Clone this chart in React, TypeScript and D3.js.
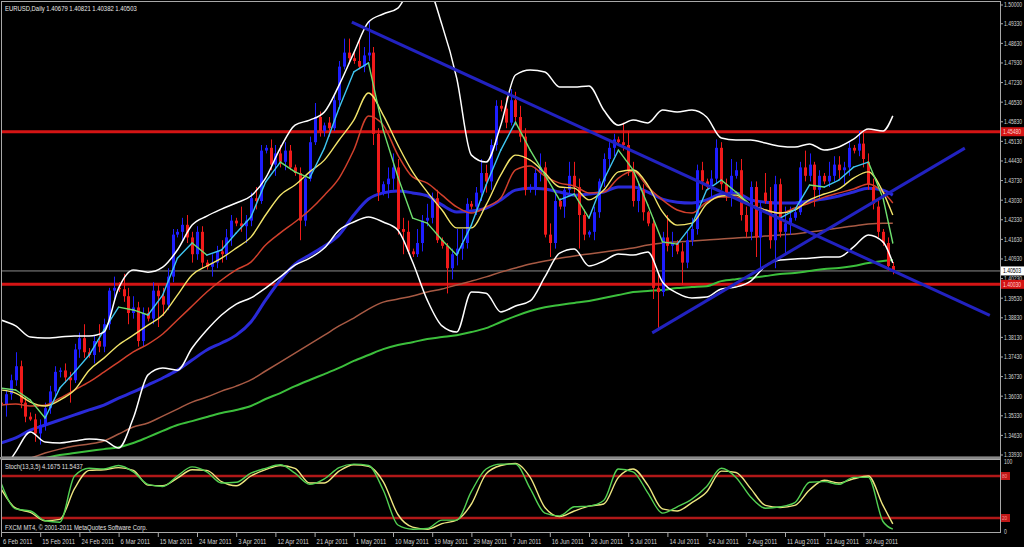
import React from "react";
import * as d3 from "d3";

const W = 1024;
const H = 547;

// ---------- candles (bar 0 = Sun 6 Feb 2011, FXCM daily incl. Sunday bars) ----------
const opens = [
  1.3580, 1.3575, 1.3610, 1.3660, 1.3710, 1.3580,
  1.3530, 1.3520, 1.3470, 1.3500, 1.3560, 1.3620,
  1.3690, 1.3695, 1.3670, 1.3660, 1.3770, 1.3810,
  1.3760, 1.3750, 1.3800, 1.3780, 1.3860, 1.3980,
  1.3990, 1.3985, 1.3960, 1.3900, 1.3920, 1.3800,
  1.3900, 1.3880, 1.3980, 1.3960, 1.3930, 1.4030,
  1.4180, 1.4190, 1.4215, 1.4170, 1.4110, 1.4190,
  1.4080, 1.4065, 1.4080, 1.4120, 1.4110, 1.4170,
  1.4230, 1.4220, 1.4210, 1.4230, 1.4310, 1.4300,
  1.4480, 1.4490, 1.4430, 1.4470, 1.4440, 1.4480,
  1.4420, 1.4400, 1.4230, 1.4380, 1.4510, 1.4600,
  1.4550, 1.4580, 1.4560, 1.4660, 1.4780, 1.4830,
  1.4810, 1.4800, 1.4780, 1.4820, 1.4830, 1.4540,
  1.4330, 1.4360, 1.4380, 1.4420, 1.4200, 1.4190,
  1.4120, 1.4110, 1.4150, 1.4230, 1.4240, 1.4310,
  1.4160, 1.4140, 1.4060, 1.4110, 1.4130, 1.4150,
  1.4290, 1.4280, 1.4330, 1.4400, 1.4370, 1.4500,
  1.4640, 1.4630, 1.4580, 1.4660, 1.4600, 1.4530,
  1.4340, 1.4350, 1.4400, 1.4420, 1.4180, 1.4150,
  1.4300, 1.4280, 1.4340, 1.4390, 1.4350, 1.4250,
  1.4180, 1.4190, 1.4260, 1.4370, 1.4450, 1.4490,
  1.4520, 1.4510, 1.4500, 1.4410, 1.4300, 1.4340,
  1.4260, 1.4220, 1.3990, 1.3975, 1.4170, 1.4140,
  1.4150, 1.4120, 1.4080, 1.4160, 1.4200, 1.4410,
  1.4370, 1.4350, 1.4380, 1.4490, 1.4360, 1.4330,
  1.4390, 1.4410, 1.4250, 1.4190, 1.4350, 1.4170,
  1.4330, 1.4300, 1.4160, 1.4360, 1.4190, 1.4220,
  1.4240, 1.4260, 1.4420, 1.4390, 1.4430, 1.4340,
  1.4390, 1.4370, 1.4390, 1.4430, 1.4410, 1.4420,
  1.4490, 1.4480, 1.4505, 1.4440, 1.4350, 1.4280,
  1.4190, 1.4150, 1.40679,
];
const highs = [
  1.3590, 1.3625, 1.3680, 1.3760, 1.3730, 1.3600,
  1.3545, 1.3540, 1.3520, 1.3580, 1.3640, 1.3710,
  1.3705, 1.3720, 1.3690, 1.3790, 1.3830, 1.3860,
  1.3775, 1.3820, 1.3860, 1.3880, 1.3990, 1.4030,
  1.4010, 1.4040, 1.3990, 1.3960, 1.3940, 1.3920,
  1.3920, 1.4010, 1.4000, 1.3990, 1.4060, 1.4200,
  1.4200, 1.4240, 1.4250, 1.4190, 1.4210, 1.4210,
  1.4090, 1.4110, 1.4140, 1.4160, 1.4200, 1.4250,
  1.4240, 1.4280, 1.4250, 1.4330, 1.4350, 1.4500,
  1.4500, 1.4520, 1.4500, 1.4500, 1.4510, 1.4500,
  1.4430, 1.4420, 1.4390, 1.4530, 1.4650, 1.4620,
  1.4580, 1.4600, 1.4680, 1.4800, 1.4880, 1.4880,
  1.4830, 1.4880, 1.4850, 1.4940, 1.4850, 1.4560,
  1.4370, 1.4420, 1.4470, 1.4450, 1.4240, 1.4230,
  1.4130, 1.4200, 1.4250, 1.4290, 1.4330, 1.4340,
  1.4170, 1.4150, 1.4130, 1.4200, 1.4200, 1.4310,
  1.4300, 1.4350, 1.4450, 1.4430, 1.4520, 1.4660,
  1.4660, 1.4670, 1.4700, 1.4690, 1.4640, 1.4560,
  1.4360, 1.4420, 1.4470, 1.4440, 1.4220, 1.4330,
  1.4310, 1.4350, 1.4440, 1.4440, 1.4380, 1.4270,
  1.4195, 1.4280, 1.4380, 1.4470, 1.4510, 1.4540,
  1.4530, 1.4580, 1.4550, 1.4440, 1.4370, 1.4360,
  1.4265, 1.4240, 1.4040, 1.4190, 1.4250, 1.4190,
  1.4160, 1.4150, 1.4190, 1.4240, 1.4430, 1.4440,
  1.4380, 1.4410, 1.4520, 1.4510, 1.4380, 1.4450,
  1.4440, 1.4450, 1.4280, 1.4370, 1.4370, 1.4300,
  1.4400, 1.4350, 1.4390, 1.4380, 1.4280, 1.4280,
  1.4270, 1.4440, 1.4480, 1.4470, 1.4440, 1.4410,
  1.4400, 1.4440, 1.4460, 1.4460, 1.4440, 1.4510,
  1.4500, 1.4550, 1.4550, 1.4470, 1.4380, 1.4300,
  1.4200, 1.4170, 1.40821,
];
const lows = [
  1.3565, 1.3530, 1.3590, 1.3640, 1.3560, 1.3510,
  1.3515, 1.3440, 1.3430, 1.3480, 1.3540, 1.3600,
  1.3670, 1.3650, 1.3580, 1.3650, 1.3740, 1.3740,
  1.3740, 1.3720, 1.3760, 1.3760, 1.3840, 1.3950,
  1.3975, 1.3940, 1.3860, 1.3880, 1.3780, 1.3780,
  1.3870, 1.3860, 1.3850, 1.3890, 1.3910, 1.4010,
  1.4170, 1.4160, 1.4150, 1.4080, 1.4090, 1.4060,
  1.4055, 1.4030, 1.4060, 1.4080, 1.4090, 1.4140,
  1.4210, 1.4190, 1.4150, 1.4210, 1.4270, 1.4290,
  1.4470, 1.4410, 1.4390, 1.4420, 1.4410, 1.4410,
  1.4390, 1.4160, 1.4210, 1.4370, 1.4500, 1.4530,
  1.4530, 1.4530, 1.4550, 1.4640, 1.4770, 1.4790,
  1.4790, 1.4770, 1.4760, 1.4800, 1.4500, 1.4300,
  1.4320, 1.4310, 1.4340, 1.4180, 1.4110, 1.4110,
  1.4100, 1.4100, 1.4120, 1.4210, 1.4220, 1.4150,
  1.4130, 1.3970, 1.4020, 1.4070, 1.4090, 1.4130,
  1.4270, 1.4250, 1.4300, 1.4330, 1.4340, 1.4480,
  1.4620, 1.4560, 1.4570, 1.4570, 1.4510, 1.4320,
  1.4330, 1.4320, 1.4370, 1.4170, 1.4100, 1.4130,
  1.4270, 1.4240, 1.4320, 1.4330, 1.4130, 1.4160,
  1.4170, 1.4160, 1.4240, 1.4350, 1.4420, 1.4460,
  1.4500, 1.4480, 1.4390, 1.4280, 1.4260, 1.4230,
  1.4210, 1.3950, 1.3837, 1.3960, 1.4120, 1.4100,
  1.4110, 1.4000, 1.4060, 1.4140, 1.4180, 1.4340,
  1.4340, 1.4310, 1.4360, 1.4340, 1.4300, 1.4280,
  1.4380, 1.4230, 1.4170, 1.4160, 1.4100, 1.4060,
  1.4290, 1.4130, 1.4060, 1.4170, 1.4110, 1.4180,
  1.4230, 1.4250, 1.4370, 1.4370, 1.4280, 1.4310,
  1.4360, 1.4350, 1.4370, 1.4380, 1.4360, 1.4390,
  1.4470, 1.4460, 1.4420, 1.4340, 1.4270, 1.4170,
  1.4140, 1.4050, 1.40382,
];
const closes = [
  1.3575, 1.3610, 1.3660, 1.3710, 1.3580, 1.3530,
  1.3520, 1.3470, 1.3500, 1.3560, 1.3620, 1.3690,
  1.3695, 1.3670, 1.3660, 1.3770, 1.3810, 1.3760,
  1.3750, 1.3800, 1.3780, 1.3860, 1.3980, 1.3990,
  1.3985, 1.3960, 1.3900, 1.3920, 1.3800, 1.3900,
  1.3880, 1.3980, 1.3960, 1.3930, 1.4030, 1.4180,
  1.4190, 1.4215, 1.4170, 1.4110, 1.4190, 1.4080,
  1.4065, 1.4080, 1.4120, 1.4110, 1.4170, 1.4230,
  1.4220, 1.4210, 1.4230, 1.4310, 1.4300, 1.4480,
  1.4490, 1.4430, 1.4470, 1.4440, 1.4480, 1.4420,
  1.4400, 1.4230, 1.4380, 1.4510, 1.4600, 1.4550,
  1.4570, 1.4560, 1.4660, 1.4780, 1.4830, 1.4810,
  1.4800, 1.4780, 1.4820, 1.4830, 1.4540, 1.4330,
  1.4360, 1.4380, 1.4420, 1.4200, 1.4190, 1.4120,
  1.4110, 1.4150, 1.4230, 1.4240, 1.4310, 1.4160,
  1.4140, 1.4060, 1.4110, 1.4130, 1.4150, 1.4290,
  1.4280, 1.4330, 1.4400, 1.4370, 1.4500, 1.4640,
  1.4630, 1.4580, 1.4660, 1.4600, 1.4530, 1.4340,
  1.4350, 1.4400, 1.4420, 1.4180, 1.4150, 1.4300,
  1.4280, 1.4340, 1.4390, 1.4350, 1.4250, 1.4180,
  1.4190, 1.4260, 1.4370, 1.4450, 1.4490, 1.4520,
  1.4510, 1.4500, 1.4410, 1.4300, 1.4340, 1.4260,
  1.4220, 1.3990, 1.3975, 1.4170, 1.4140, 1.4150,
  1.4120, 1.4080, 1.4160, 1.4200, 1.4410, 1.4370,
  1.4350, 1.4380, 1.4490, 1.4360, 1.4330, 1.4390,
  1.4410, 1.4250, 1.4190, 1.4350, 1.4170, 1.4280,
  1.4300, 1.4160, 1.4360, 1.4190, 1.4220, 1.4240,
  1.4260, 1.4420, 1.4390, 1.4430, 1.4340, 1.4390,
  1.4370, 1.4390, 1.4430, 1.4410, 1.4420, 1.4490,
  1.4480, 1.4505, 1.4450, 1.4360, 1.4290, 1.4190,
  1.4150, 1.4068, 1.40503,
];

// ---------- indicator readings, sampled every 3 bars ----------
const sampleBars = [
  0, 3, 6, 9, 12, 15, 18, 21, 24, 27, 30, 33, 36, 39, 42, 45, 48, 51, 54, 57,
  60, 63, 66, 69, 72, 75, 78, 81, 84, 87, 90, 93, 96, 99, 102, 105, 108, 111,
  114, 117, 120, 123, 126, 129, 132, 135, 138, 141, 144, 147, 150, 153, 156,
  159, 162, 165, 168, 171, 174, 177, 180, 182,
];
const maFast = [
  1.3632, 1.3625, 1.3589, 1.3525, 1.3632, 1.3689, 1.3750, 1.3839, 1.3921, 1.3911,
  1.3893, 1.3964, 1.4096, 1.4150, 1.4107, 1.4125, 1.4186, 1.4243, 1.4368, 1.4439,
  1.4404, 1.4382, 1.4489, 1.4632, 1.4761, 1.4793, 1.4554, 1.4386, 1.4239, 1.4221,
  1.4161, 1.4107, 1.4214, 1.4357, 1.4482, 1.4582, 1.4482, 1.4393, 1.4304, 1.4325,
  1.4239, 1.4375, 1.4482, 1.4411, 1.4286, 1.4154, 1.4146, 1.4214, 1.4339, 1.4375,
  1.4332, 1.4286, 1.4261, 1.4239, 1.4268, 1.4357, 1.4350, 1.4375, 1.4421, 1.4439,
  1.4311, 1.4150,
];
const maYellow = [
  1.3625, 1.3614, 1.3582, 1.3568, 1.3589, 1.3625, 1.3696, 1.3739, 1.3786, 1.3821,
  1.3857, 1.3893, 1.3964, 1.4036, 1.4068, 1.4096, 1.4132, 1.4171, 1.4250, 1.4321,
  1.4357, 1.4404, 1.4446, 1.4518, 1.4589, 1.4686, 1.4607, 1.4500, 1.4404, 1.4332,
  1.4268, 1.4204, 1.4204, 1.4286, 1.4393, 1.4464, 1.4446, 1.4400, 1.4350, 1.4346,
  1.4304, 1.4339, 1.4404, 1.4411, 1.4357, 1.4261, 1.4214, 1.4221, 1.4289, 1.4318,
  1.4321, 1.4286, 1.4268, 1.4257, 1.4268, 1.4304, 1.4325, 1.4343, 1.4382, 1.4404,
  1.4332, 1.4250,
];
const maRed = [
  1.3571, 1.3575, 1.3568, 1.3571, 1.3596, 1.3625, 1.3654, 1.3689, 1.3725, 1.3761,
  1.3789, 1.3825, 1.3875, 1.3925, 1.3975, 1.4018, 1.4054, 1.4082, 1.4143, 1.4186,
  1.4225, 1.4268, 1.4321, 1.4382, 1.4482, 1.4604, 1.4571, 1.4464, 1.4386, 1.4364,
  1.4321, 1.4279, 1.4257, 1.4279, 1.4311, 1.4411, 1.4425, 1.4389, 1.4364, 1.4354,
  1.4329, 1.4332, 1.4382, 1.4407, 1.4350, 1.4304, 1.4268, 1.4257, 1.4296, 1.4314,
  1.4314, 1.4286, 1.4268, 1.4257, 1.4275, 1.4293, 1.4314, 1.4329, 1.4343, 1.4361,
  1.4332, 1.4293,
];
const maBlue = [
  1.3436, 1.3454, 1.3482, 1.3500, 1.3518, 1.3536, 1.3554, 1.3571, 1.3596, 1.3618,
  1.3643, 1.3668, 1.3696, 1.3732, 1.3768, 1.3793, 1.3821, 1.3868, 1.3946, 1.4018,
  1.4075, 1.4107, 1.4139, 1.4179, 1.4250, 1.4307, 1.4329, 1.4336, 1.4329, 1.4318,
  1.4286, 1.4261, 1.4264, 1.4275, 1.4304, 1.4339, 1.4346, 1.4343, 1.4332, 1.4321,
  1.4325, 1.4332, 1.4350, 1.4350, 1.4332, 1.4307, 1.4296, 1.4293, 1.4304, 1.4325,
  1.4329, 1.4304, 1.4296, 1.4293, 1.4293, 1.4300, 1.4307, 1.4318, 1.4332, 1.4346,
  1.4339, 1.4321,
];
const maBrown = [
  1.3364, 1.3371, 1.3382, 1.3400, 1.3414, 1.3425, 1.3432, 1.3443, 1.3468, 1.3493,
  1.3507, 1.3532, 1.3557, 1.3582, 1.3600, 1.3621, 1.3639, 1.3661, 1.3693, 1.3725,
  1.3757, 1.3789, 1.3821, 1.3854, 1.3882, 1.3914, 1.3939, 1.3950, 1.3961, 1.3975,
  1.3986, 1.4000, 1.4014, 1.4029, 1.4046, 1.4061, 1.4075, 1.4086, 1.4096, 1.4104,
  1.4111, 1.4118, 1.4125, 1.4132, 1.4143, 1.4150, 1.4154, 1.4157, 1.4161, 1.4164,
  1.4168, 1.4171, 1.4175, 1.4179, 1.4182, 1.4189, 1.4196, 1.4204, 1.4211, 1.4218,
  1.4221, 1.4221,
];
const maGreen = [
  1.3346, 1.3357, 1.3371, 1.3382, 1.3393, 1.3400, 1.3407, 1.3414, 1.3421, 1.3436,
  1.3457, 1.3479, 1.3500, 1.3514, 1.3529, 1.3543, 1.3554, 1.3568, 1.3593, 1.3614,
  1.3639, 1.3661, 1.3682, 1.3704, 1.3729, 1.3750, 1.3771, 1.3786, 1.3796, 1.3807,
  1.3814, 1.3821, 1.3832, 1.3846, 1.3868, 1.3889, 1.3907, 1.3921, 1.3929, 1.3936,
  1.3943, 1.3954, 1.3964, 1.3975, 1.3979, 1.3982, 1.3989, 1.3993, 1.3996, 1.4014,
  1.4021, 1.4025, 1.4032, 1.4039, 1.4043, 1.4050, 1.4057, 1.4061, 1.4068, 1.4079,
  1.4086, 1.4089,
];
const bandUpper = [
  1.3875, 1.3854, 1.3814, 1.3811, 1.3814, 1.3818, 1.3818, 1.3832, 1.3989, 1.4054,
  1.4046, 1.4064, 1.4125, 1.4214, 1.4246, 1.4271, 1.4293, 1.4318, 1.4382, 1.4489,
  1.4571, 1.4589, 1.4618, 1.4714, 1.4829, 1.4939, 1.4968, 1.4989, 1.5060, 1.5060,
  1.4929, 1.4739, 1.4464, 1.4439, 1.4571, 1.4750, 1.4768, 1.4761, 1.4707, 1.4707,
  1.4711, 1.4625, 1.4571, 1.4589, 1.4579, 1.4625, 1.4618, 1.4625, 1.4600, 1.4525,
  1.4518, 1.4518, 1.4507, 1.4496, 1.4493, 1.4504, 1.4482, 1.4493, 1.4521, 1.4557,
  1.4550, 1.4604,
];
const bandLower = [
  1.3321, 1.3404, 1.3475, 1.3439, 1.3436, 1.3443, 1.3450, 1.3446, 1.3418, 1.3525,
  1.3679, 1.3704, 1.3696, 1.3775, 1.3839, 1.3893, 1.3932, 1.3954, 1.3989, 1.4029,
  1.4071, 1.4096, 1.4132, 1.4196, 1.4225, 1.4243, 1.4225, 1.4196, 1.4082, 1.3946,
  1.3854, 1.3832, 1.3975, 1.3971, 1.3904, 1.3925, 1.3943, 1.4029, 1.4114, 1.4129,
  1.4068, 1.4086, 1.4111, 1.4107, 1.4118, 1.4011, 1.3971, 1.3954, 1.3957, 1.3986,
  1.3993, 1.4014, 1.4068, 1.4089, 1.4093, 1.4096, 1.4100, 1.4100, 1.4136, 1.4179,
  1.4154, 1.4079,
];
const stochK = [
  70, 33, 30, 16, 14, 80, 91, 90, 95, 86, 68, 65, 80, 93, 86, 70, 71, 84, 91, 96,
  84, 68, 76, 92, 97, 95, 60, 10, 4, 5, 17, 17, 58, 90, 97, 97, 62, 27, 23, 36,
  37, 45, 90, 86, 56, 27, 36, 47, 65, 91, 78, 50, 34, 36, 42, 71, 72, 68, 78, 78,
  15, 4.1675,
];
const stochD = [
  62, 34, 28, 16, 18, 62, 88, 89, 92, 88, 67, 66, 77, 89, 88, 72, 66, 80, 89, 95,
  91, 70, 70, 87, 96, 94, 72, 25, 7, 4, 12, 17, 40, 83, 95, 98, 78, 35, 22, 30,
  37, 40, 78, 90, 67, 33, 30, 42, 57, 87, 85, 62, 38, 35, 38, 60, 74, 70, 76, 80,
  38, 11.5437,
];

// ---------- drawn objects ----------
const trendDownBars = [71.6, 201.8];
const trendDownPrices = [1.4939, 1.3892];
const trendUpBars = [132.9, 196.7];
const trendUpPrices = [1.3829, 1.4489];
const levelPrices = [1.45475, 1.40025];
const levelLabels = ["1.45480", "1.40030"];
const lastPrice = 1.40503;

// ---------- axes ----------
const priceTickLabels = [
  "1.49330", "1.48630", "1.47930", "1.47230", "1.46530", "1.45830", "1.45130",
  "1.44430", "1.43730", "1.43030", "1.42330", "1.41630", "1.40930", "1.40230",
  "1.39530", "1.38830", "1.38130", "1.37430", "1.36730", "1.36030", "1.35330",
  "1.34630", "1.33930",
];
const dateTickLabels = [
  "6 Feb 2011", "15 Feb 2011", "24 Feb 2011", "6 Mar 2011", "15 Mar 2011",
  "24 Mar 2011", "3 Apr 2011", "12 Apr 2011", "21 Apr 2011", "1 May 2011",
  "10 May 2011", "19 May 2011", "29 May 2011", "7 Jun 2011", "16 Jun 2011",
  "26 Jun 2011", "5 Jul 2011", "14 Jul 2011", "24 Jul 2011", "2 Aug 2011",
  "11 Aug 2011", "21 Aug 2011", "30 Aug 2011",
];
const dateTickBars = [
  0, 8, 16, 24, 32, 40, 48, 56, 64, 72, 80, 88, 96, 104, 112, 120, 128, 136,
  144, 152, 160, 168, 176,
];
const stochLevels = [80, 20];

const FONT = "'Liberation Sans', Arial, sans-serif";
const TXT = "#d4d4d4";

const x = d3.scaleLinear().domain([0, 182]).range([1, 892.8]);
const y = d3.scaleLinear().domain([1.3393, 1.5]).range([455, 5]);
const ys = d3.scaleLinear().domain([0, 100]).range([532, 462]);

function Label(props: { x: number; y: number; text: string; fill?: string; size?: number; sx?: number }) {
  const s = props.size ?? 7.4;
  const sx = props.sx ?? 0.8;
  return (
    <text
      transform={`translate(${props.x},${props.y}) scale(${sx},1)`}
      fontFamily={FONT}
      fontSize={s}
      fill={props.fill ?? TXT}
    >
      {props.text}
    </text>
  );
}

export default function App() {
  const priceLine = (vals: number[]) =>
    d3
      .line<number>()
      .x((_, i) => x(sampleBars[i]))
      .y((v) => y(v))
      .curve(d3.curveMonotoneX)(vals) || "";
  const stochLine = (vals: number[]) =>
    d3
      .line<number>()
      .x((_, i) => x(sampleBars[i]))
      .y((v) => ys(v))
      .curve(d3.curveMonotoneX)(vals) || "";

  const candles = closes.map((c, i) => {
    const o = opens[i];
    const up = c >= o;
    const col = up ? "#1e1eff" : "#f01a1a";
    const cx = Math.round(x(i));
    const top = y(Math.max(o, c));
    const bot = y(Math.min(o, c));
    return (
      <g key={i}>
        <line x1={cx + 0.5} x2={cx + 0.5} y1={y(highs[i])} y2={y(lows[i])} stroke={col} strokeWidth={1} />
        <rect x={cx - 1} y={top} width={3} height={Math.max(1, bot - top)} fill={col} />
      </g>
    );
  });

  const fastSegs = maFast.slice(1).map((v, i) => {
    const prev = maFast[i];
    const rising = v > prev;
    return (
      <line
        key={i}
        x1={x(sampleBars[i])}
        y1={y(prev)}
        x2={x(sampleBars[i + 1])}
        y2={y(v)}
        stroke={rising ? "#3fc6f2" : "#6fe06f"}
        strokeWidth={1.4}
        strokeLinecap="round"
      />
    );
  });

  const AX_S = 6.8;
  const AX_SX = 0.74;

  return (
    <svg
      width={W}
      height={H}
      style={{ position: "fixed", left: 0, top: 0, background: "#000", display: "block" }}
    >
      <defs>
        <clipPath id="mainClip">
          <rect x={2} y={2} width={998} height={455} />
        </clipPath>
        <clipPath id="stochClip">
          <rect x={2} y={460} width={998} height={73} />
        </clipPath>
      </defs>
      <rect x={0} y={0} width={W} height={H} fill="#000" />

      {/* main panel */}
      <g clipPath="url(#mainClip)">
        <line x1={2} x2={1000} y1={y(lastPrice)} y2={y(lastPrice)} stroke="#8c8c8c" strokeWidth={1} />
        {levelPrices.map((p, i) => (
          <line key={i} x1={2} x2={1000} y1={y(p)} y2={y(p)} stroke="#d41414" strokeWidth={3} />
        ))}
        <path d={priceLine(maGreen)} fill="none" stroke="#3cbf3c" strokeWidth={2} />
        <path d={priceLine(maBrown)} fill="none" stroke="#a85a44" strokeWidth={1.5} />
        <path d={priceLine(maBlue)} fill="none" stroke="#2a2ad8" strokeWidth={3} />
        {candles}
        <path d={priceLine(maRed)} fill="none" stroke="#d2402c" strokeWidth={1.5} />
        <path d={priceLine(maYellow)} fill="none" stroke="#f2e46a" strokeWidth={1.4} />
        {fastSegs}
        <path d={priceLine(bandUpper)} fill="none" stroke="#ffffff" strokeWidth={1.5} />
        <path d={priceLine(bandLower)} fill="none" stroke="#ffffff" strokeWidth={1.5} />
        <line
          x1={x(trendDownBars[0])}
          y1={y(trendDownPrices[0])}
          x2={x(trendDownBars[1])}
          y2={y(trendDownPrices[1])}
          stroke="#2222c0"
          strokeWidth={3}
        />
        <line
          x1={x(trendUpBars[0])}
          y1={y(trendUpPrices[0])}
          x2={x(trendUpBars[1])}
          y2={y(trendUpPrices[1])}
          stroke="#2222c0"
          strokeWidth={3}
        />
      </g>

      {/* panel borders */}
      <rect x={1.5} y={1.5} width={999} height={455.5} fill="none" stroke="#a8a8a8" strokeWidth={1} />
      <rect x={0} y={457} width={1001} height={2.5} fill="#8a8a8a" />
      <rect x={1.5} y={459.5} width={999} height={73} fill="none" stroke="#a8a8a8" strokeWidth={1} />

      {/* header */}
      <Label x={5} y={11} text="EURUSD,Daily  1.40679 1.40821 1.40382 1.40503" fill="#e8e8e8" />

      {/* price axis */}
      <line x1={1000.5} x2={1000.5} y1={2} y2={533} stroke="#a8a8a8" />
      <line x1={1000} x2={1003} y1={y(1.5)} y2={y(1.5)} stroke="#a8a8a8" />
      <Label x={1004} y={y(1.5) + 2.4} text="1.50000" size={AX_S} sx={AX_SX} />
      {priceTickLabels.map((t) => (
        <g key={t}>
          <line x1={1000} x2={1003} y1={y(+t)} y2={y(+t)} stroke="#a8a8a8" />
          <Label x={1004} y={y(+t) + 2.4} text={t} size={AX_S} sx={AX_SX} />
        </g>
      ))}
      <rect x={1001} y={y(lastPrice) - 4.5} width={23} height={9} fill="#ffffff" />
      <Label x={1003} y={y(lastPrice) + 2.4} text="1.40503" fill="#000" size={AX_S} sx={AX_SX} />
      {levelPrices.map((p, i) => (
        <g key={i}>
          <rect x={1001} y={y(p) - 4.5} width={23} height={9} fill="#d41414" />
          <Label x={1003} y={y(p) + 2.4} text={levelLabels[i]} fill="#ffd0d0" size={AX_S} sx={AX_SX} />
        </g>
      ))}

      {/* stochastic panel */}
      <g clipPath="url(#stochClip)">
        {stochLevels.map((lv) => (
          <line key={lv} x1={2} x2={1000} y1={ys(lv)} y2={ys(lv)} stroke="#b01818" strokeWidth={2.5} />
        ))}
        <path d={stochLine(stochD)} fill="none" stroke="#eee680" strokeWidth={1.4} />
        <path d={stochLine(stochK)} fill="none" stroke="#52d052" strokeWidth={1.4} />
      </g>
      <Label x={5} y={469} text="Stoch(13,3,5) 4.1675 11.5437" fill="#e0e0e0" />
      <Label x={5} y={530} text="FXCM MT4, © 2001-2011 MetaQuotes Software Corp." fill="#e0e0e0" />
      <Label x={1004} y={ys(100) + 2.4} text="100" size={AX_S} sx={AX_SX} />
      <Label x={1004} y={ys(0) + 2.4} text="0" size={AX_S} sx={AX_SX} />
      {stochLevels.map((lv) => (
        <g key={lv}>
          <rect x={1001} y={ys(lv) - 4} width={9} height={8} fill="#c01818" />
          <Label x={1002} y={ys(lv) + 2.4} text={String(lv)} fill="#ff9090" size={6.2} sx={AX_SX} />
        </g>
      ))}

      {/* date axis */}
      {dateTickBars.map((b, i) => (
        <g key={b}>
          <line x1={x(b) + 0.5} x2={x(b) + 0.5} y1={533} y2={537} stroke="#a8a8a8" />
          <Label x={x(b) + 2} y={544} text={dateTickLabels[i]} />
        </g>
      ))}
    </svg>
  );
}
